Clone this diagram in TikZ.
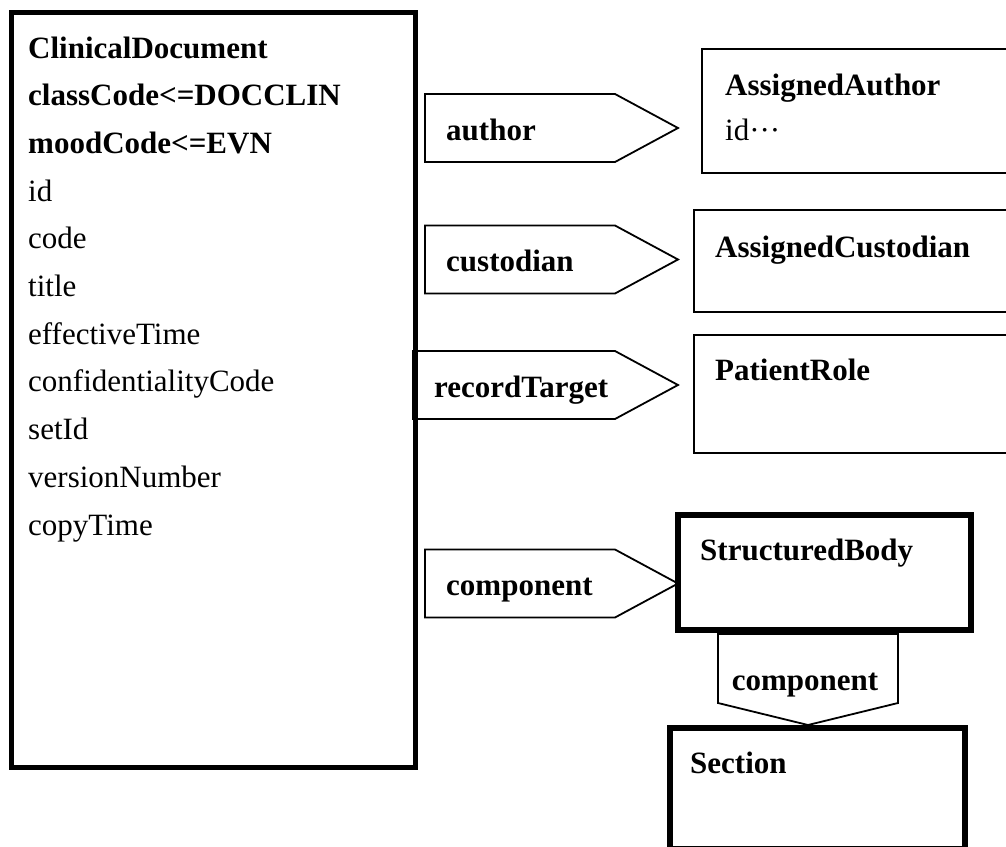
\documentclass[tikz,border=0pt]{standalone}
\usepackage{fontspec}
\setmainfont{Liberation Serif}
\usetikzlibrary{positioning}
\newcommand\cdafont{\fontsize{31}{36}\selectfont}
\tikzset{
  docbox/.style={draw, line width=5pt, inner sep=0pt, outer sep=0pt, anchor=north west},
  rolebox/.style={draw, line width=1.8pt, inner sep=0pt, outer sep=0pt, anchor=north west},
  actbox/.style={draw, line width=6.5pt, inner sep=0pt, outer sep=0pt, anchor=north west},
  relshape/.style={draw, line width=1.8pt, line join=miter},
  attrtext/.style={anchor=base west, inner sep=0pt, font=\cdafont},
  clstext/.style={attrtext, font=\cdafont\bfseries},
}

\begin{document}
\begin{tikzpicture}[x=1pt,y=-1pt]
  \useasboundingbox (0,0) rectangle (1006,846);

  % the document class and its attributes
  \node[docbox, minimum width=404, minimum height=755] (clindoc) at (11,12) {};
  \node[clstext] (cdname)  at (28,58)    {ClinicalDocument};
  \node[clstext] (cdclass) at (28,105.7) {classCode<=DOCCLIN};
  \node[clstext] (cdmood)  at (28,153.4) {moodCode<=EVN};
  \foreach \a [count=\i from 3] in {id,code,title,effectiveTime,confidentialityCode,
                                    setId,versionNumber,copyTime}
    {\node[attrtext] (cdattr\i) at (28,{58+47.7*\i}) {\a};}

  % participations and the body relationship
  \foreach \y/\rel/\x in {128/author/425, 259.5/custodian/425,
                          385/recordTarget/413, 583.5/component/425}
  {
    \draw[relshape] ({\x},{\y-34}) -- (615,{\y-34}) -- (678,\y)
                    -- (615,{\y+34}) -- ({\x},{\y+34}) -- cycle;
    \node[clstext] (rel-\rel) at ({\x+21},{\y+12}) {\rel};
  }

  % roles (they run on past the right edge)
  \node[rolebox, minimum width=320, minimum height=124] (asgauthor) at (702,49) {};
  \node[clstext]  (asgauthor-name) at (725,95)  {AssignedAuthor};
  \node[attrtext] (asgauthor-id)   at (725,140) {id···};
  \node[rolebox, minimum width=330, minimum height=102] (asgcust) at (694,210) {};
  \node[clstext]  (asgcust-name) at (715,257) {AssignedCustodian};
  \node[rolebox, minimum width=330, minimum height=118] (patrole) at (694,335) {};
  \node[clstext]  (patrole-name) at (715,380) {PatientRole};

  % body and section
  \node[actbox, minimum width=293, minimum height=115] (strbody) at (678,515) {};
  \node[clstext] (strbody-name) at (700,560) {StructuredBody};
  \draw[relshape] (718,634) -- (898,634) -- (898,703) -- (808,725)
                  -- (718,703) -- cycle;
  \node[clstext, anchor=base] (rel-section) at (805,690) {component};
  \node[actbox, minimum width=295, minimum height=121] (section) at (670,728) {};
  \node[clstext] (section-name) at (690,773) {Section};
\end{tikzpicture}
\end{document}
